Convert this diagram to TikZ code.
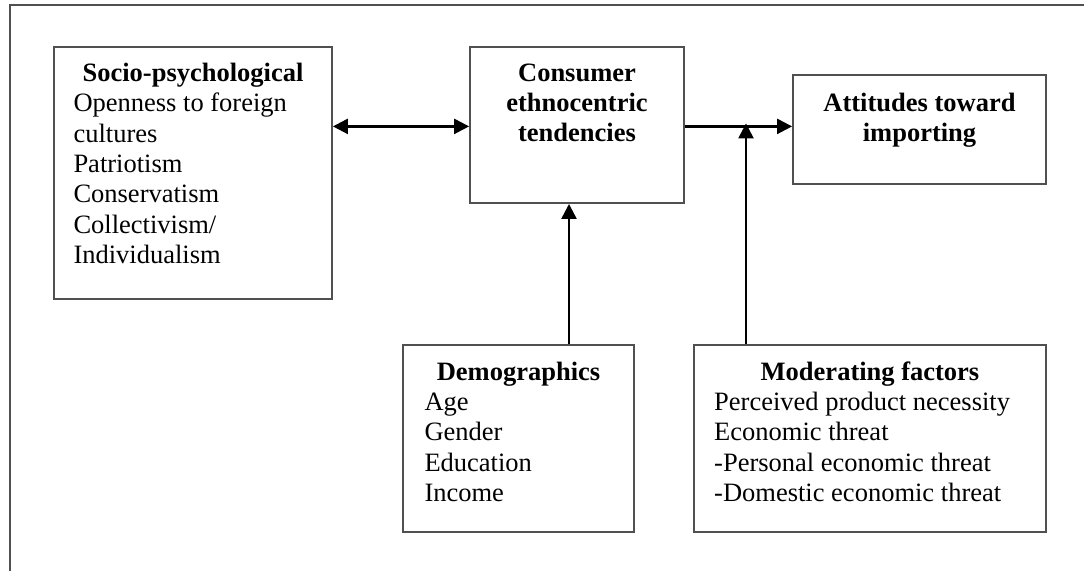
\documentclass[tikz,border=0pt]{standalone}
\usepackage{fontspec}
\setmainfont{Liberation Serif}
\usetikzlibrary{arrows.meta}
\definecolor{framegray}{RGB}{80,80,80}
\begin{document}
\begin{tikzpicture}[x=1pt,y=-1pt,
  box/.style 2 args={draw=framegray, line width=1.8pt, inner sep=0pt,
    minimum width=#1, minimum height=#2},
  head/.style={font=\bfseries\fontsize{26.5}{30}\selectfont, anchor=base, inner sep=0pt},
  item/.style={font=\fontsize{26.5}{30}\selectfont, anchor=base west, inner sep=0pt},
  tip/.tip={Triangle[length=15pt,width=15pt]},
  arr/.style={line width=2.4pt, -tip},
  darr/.style={line width=2.4pt, tip-tip}]
\useasboundingbox (0,0) rectangle (1084,571);

% outer frame (left and top edges only)
\draw[framegray, line width=2pt] (10,571) -- (10,5) -- (1084,5);

% boxes
\node[box={278}{252.3}] (socio) at (193,172.9) {};
\node[box={214}{156.3}] (consumer) at (577,124.9) {};
\node[box={253}{109}] (attitudes) at (919.5,129.5) {};
\node[box={231}{187}] (demo) at (518.5,438.5) {};
\node[box={352}{187}] (moder) at (870,438.5) {};

% socio-psychological antecedents
\node[head] (socio-h) at (193,81.7) {Socio-psychological};
\foreach [count=\i] \t in {Openness to foreign, cultures, Patriotism, Conservatism, Collectivism/, Individualism}
  \node[item] (socio-\i) at (73.3,{111.7+30.4*(\i-1)}) {\t};

% consumer ethnocentric tendencies
\foreach [count=\i] \t in {Consumer, ethnocentric, tendencies}
  \node[head] (consumer-\i) at (577,{81.7+30*(\i-1)}) {\t};

% attitudes toward importing
\node[head] (attitudes-1) at (919.5,111.7) {Attitudes toward};
\node[head] (attitudes-2) at (919.5,141.7) {importing};

% demographics
\node[head] (demo-h) at (518.5,380) {Demographics};
\foreach [count=\i] \t in {Age, Gender, Education, Income}
  \node[item] (demo-\i) at (424.3,{410.5+30.4*(\i-1)}) {\t};

% moderating factors
\node[head] (moder-h) at (870,380) {Moderating factors};
\foreach [count=\i] \t in {Perceived product necessity, Economic threat, -Personal economic threat, -Domestic economic threat}
  \node[item] (moder-\i) at (714,{410.5+30.4*(\i-1)}) {\t};

% connectors
\draw[darr] ([yshift=-1.5pt]consumer.west -| socio.east) -- ([yshift=-1.5pt]consumer.west);
\draw[arr] ([yshift=-1.5pt]consumer.east) -- ([yshift=-1.5pt]consumer.east -| attitudes.west);
\coordinate (dmx) at ([xshift=-8pt]consumer.south);
\draw[arr] (demo.north -| dmx) -- (dmx);
\coordinate (junc) at (746,123.4);
\draw[arr] (moder.north -| junc) -- (junc);
\end{tikzpicture}
\end{document}
